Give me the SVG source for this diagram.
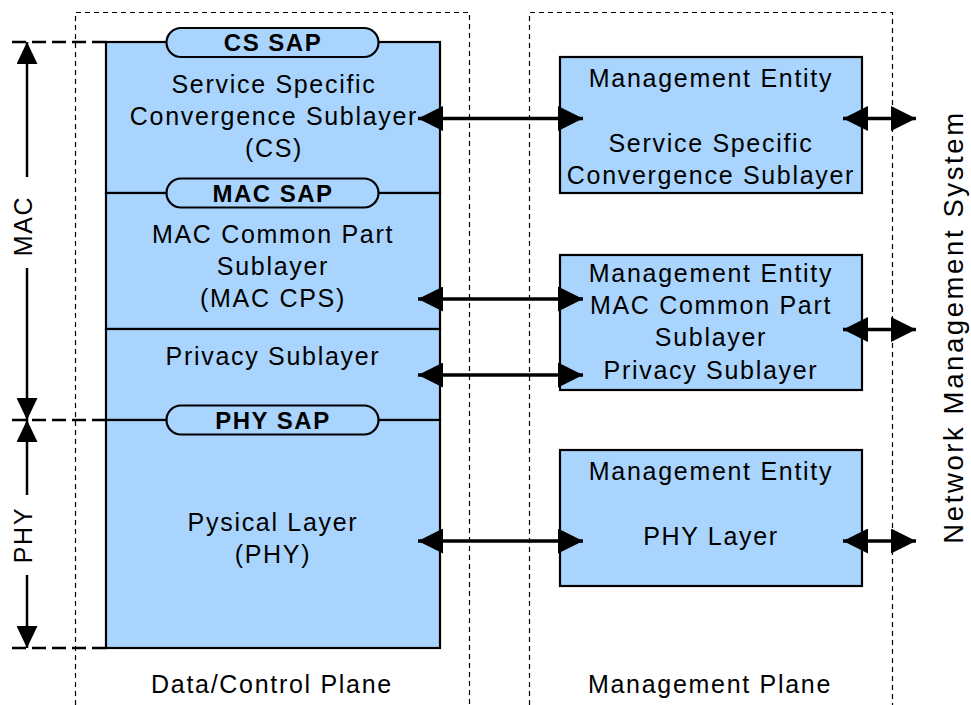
<svg xmlns="http://www.w3.org/2000/svg" width="971" height="705" viewBox="0 0 971 705">
<style>
.t{font-family:"Liberation Sans",Arial,sans-serif;font-size:25px;letter-spacing:1.7px;text-anchor:middle;fill:#000}
.b{font-weight:bold;font-size:24px;letter-spacing:1.5px}
.box{fill:#a9d4fd;stroke:#000;stroke-width:2.2}
.plane{fill:none;stroke:#000;stroke-width:1.2;stroke-dasharray:5 4}
.lvl{fill:none;stroke:#000;stroke-width:2.5;stroke-dasharray:14 6}
.con{fill:none;stroke:#000;stroke-width:3.5}
.vcon{fill:none;stroke:#000;stroke-width:2.5}
</style>
<defs>
<marker id="ah" markerUnits="userSpaceOnUse" markerWidth="25" markerHeight="25" refX="25" refY="12.5" orient="auto-start-reverse" viewBox="0 0 25 25">
<path d="M0,0 L25,12.5 L0,25 z" fill="#000"/>
</marker>
<marker id="vh" markerUnits="userSpaceOnUse" markerWidth="22" markerHeight="21" refX="22" refY="10.5" orient="auto" viewBox="0 0 22 21">
<path d="M0,0 L22,10.5 L0,21 z" fill="#000"/>
</marker>
</defs>
<rect width="971" height="705" fill="#fff"/>

<g id="planes">
<path class="plane" d="M75.5,705 V12.5 H469.5 V705"/>
<path class="plane" d="M529.5,705 V12.5 H892.5 V705"/>
<text class="t" x="272" y="693">Data/Control Plane</text>
<text class="t" x="710" y="693">Management Plane</text>
</g>

<g id="layer-scale">
<line class="lvl" x1="12" y1="42" x2="106" y2="42"/>
<line class="lvl" x1="12" y1="420" x2="106" y2="420"/>
<line class="lvl" x1="12" y1="648" x2="106" y2="648"/>
<text class="t" transform="translate(32,226) rotate(-90)">MAC</text>
<text class="t" transform="translate(32,535) rotate(-90)">PHY</text>
</g>

<g id="cs-layer">
<rect class="box" x="106" y="42" width="334" height="151"/>
<text class="t" x="274" y="93">Service Specific</text>
<text class="t" x="274" y="125">Convergence Sublayer</text>
<text class="t" x="274" y="157">(CS)</text>
</g>
<g id="mac-cps-layer">
<rect class="box" x="106" y="193" width="334" height="136"/>
<text class="t" x="273" y="243">MAC Common Part</text>
<text class="t" x="273" y="275">Sublayer</text>
<text class="t" x="273" y="307">(MAC CPS)</text>
</g>
<g id="privacy-layer">
<rect class="box" x="106" y="329" width="334" height="91"/>
<text class="t" x="273" y="365">Privacy Sublayer</text>
</g>
<g id="phy-layer">
<rect class="box" x="106" y="420" width="334" height="228"/>
<text class="t" x="273" y="531">Pysical Layer</text>
<text class="t" x="273" y="563">(PHY)</text>
</g>

<g id="cs-sap">
<rect class="box" x="166.5" y="28" width="212" height="29" rx="14.5"/>
<text class="t b" x="273" y="51">CS SAP</text>
</g>
<g id="mac-sap">
<rect class="box" x="166.5" y="178.5" width="212" height="29" rx="14.5"/>
<text class="t b" x="273" y="202">MAC SAP</text>
</g>
<g id="phy-sap">
<rect class="box" x="166.5" y="405.5" width="212" height="29" rx="14.5"/>
<text class="t b" x="273" y="429">PHY SAP</text>
</g>

<g id="me-cs">
<rect class="box" x="560" y="57" width="302" height="136"/>
<text class="t" x="711" y="87">Management Entity</text>
<text class="t" x="711" y="152">Service Specific</text>
<text class="t" x="711" y="184">Convergence Sublayer</text>
</g>
<g id="me-mac">
<rect class="box" x="560" y="255" width="302" height="135"/>
<text class="t" x="711" y="282">Management Entity</text>
<text class="t" x="711" y="314">MAC Common Part</text>
<text class="t" x="711" y="346">Sublayer</text>
<text class="t" x="711" y="379">Privacy Sublayer</text>
</g>
<g id="me-phy">
<rect class="box" x="560" y="450" width="302" height="136"/>
<text class="t" x="711" y="480">Management Entity</text>
<text class="t" x="711" y="545">PHY Layer</text>
</g>

<g id="nms">
<text class="t" style="font-size:27.5px;letter-spacing:2.6px" transform="translate(963,327) rotate(-90)">Network Management System</text>
</g>

<g id="connectors">
<line class="vcon" x1="27" y1="177" x2="27" y2="42" marker-end="url(#vh)"/>
<line class="vcon" x1="27" y1="268" x2="27" y2="420" marker-end="url(#vh)"/>
<line class="vcon" x1="27" y1="495" x2="27" y2="420" marker-end="url(#vh)"/>
<line class="vcon" x1="27" y1="575" x2="27" y2="648" marker-end="url(#vh)"/>
<line class="con" x1="418" y1="118.5" x2="583" y2="118.5" marker-start="url(#ah)" marker-end="url(#ah)"/>
<line class="con" x1="418" y1="299" x2="583" y2="299" marker-start="url(#ah)" marker-end="url(#ah)"/>
<line class="con" x1="418" y1="375" x2="583" y2="375" marker-start="url(#ah)" marker-end="url(#ah)"/>
<line class="con" x1="418" y1="541" x2="583" y2="541" marker-start="url(#ah)" marker-end="url(#ah)"/>
<line class="con" x1="843" y1="118.5" x2="916" y2="118.5" marker-start="url(#ah)" marker-end="url(#ah)"/>
<line class="con" x1="843" y1="329.5" x2="916" y2="329.5" marker-start="url(#ah)" marker-end="url(#ah)"/>
<line class="con" x1="843" y1="541" x2="916" y2="541" marker-start="url(#ah)" marker-end="url(#ah)"/>
</g>
</svg>
